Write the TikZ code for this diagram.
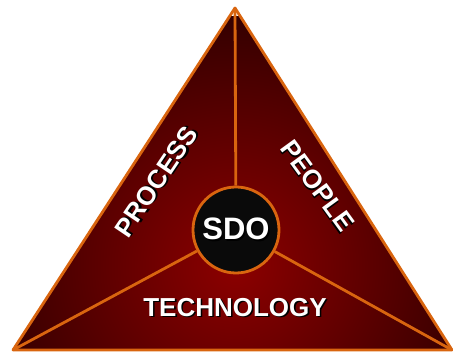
\documentclass[tikz,border=0pt]{standalone}
\usepackage{fontspec}
\setmainfont{Liberation Sans}
\usepackage{tikz}
\definecolor{edgeorange}{RGB}{217,101,15}
\definecolor{redhi}{RGB}{140,0,0}
\definecolor{reddk}{RGB}{52,0,0}
\newcommand{\shadowed}[1]{\rlap{\kern1.6pt\raisebox{-1.6pt}{\color{black}#1}}#1}

\begin{document}
\begin{tikzpicture}[x=1pt,y=1pt,
	edge/.style={draw=edgeorange,line width=2.8pt,line join=round},
	label/.style={text=white,font=\fontsize{26}{28}\selectfont\bfseries,inner sep=0pt}]
\useasboundingbox (0,0) rectangle (453,352);
\coordinate (top) at (235,344);
\coordinate (left) at (13,2);
\coordinate (right) at (452,2);
\begin{scope}
\clip (top) -- (left) -- (right) -- cycle;
\shade[inner color=redhi,outer color=reddk] (235,86) circle (250);
\end{scope}
\draw[edge] (top) -- (left) -- (right) -- cycle;
\node [circle,fill=black!96,draw=edgeorange,line width=2.8pt,minimum size=86pt,inner sep=0pt] (sdo) at (236,122) {};
\node [label,font=\fontsize{31}{32}\selectfont\bfseries] (sdotext) at (sdo.center) {\shadowed{SDO}};
\draw[edge] (sdo) -- (top);
\draw[edge] (sdo) -- (left);
\draw[edge] (sdo) -- (right);
\node [label,rotate=56] (process) at (157,170) {\shadowed{PROCESS}};
\node [label,rotate=-54] (people) at (317,166) {\shadowed{PEOPLE}};
\node [label] (technology) at (235,44) {\shadowed{TECHNOLOGY}};
\end{tikzpicture}
\end{document}
